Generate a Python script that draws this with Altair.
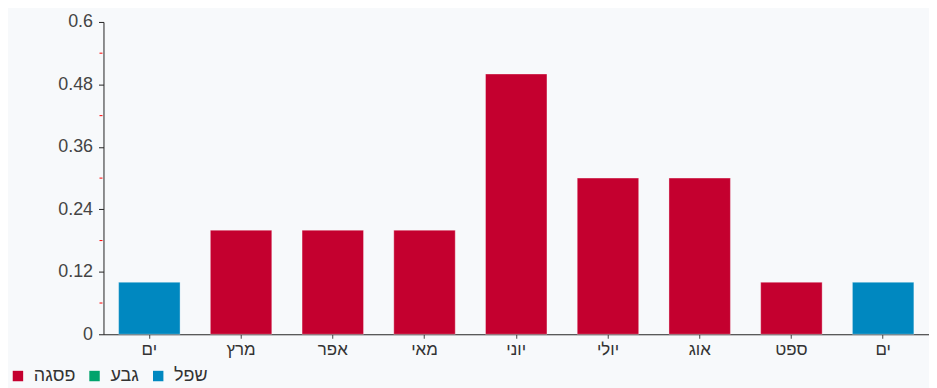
import altair as alt
import pandas as pd

months = ["ים", "מרץ", "אפר", "מאי", "יוני", "יולי", "אוג", "ספט", "ים"]
values = [0.1, 0.2, 0.2, 0.2, 0.5, 0.3, 0.3, 0.1, 0.1]
series = ["שפל", "פסגה", "פסגה", "פסגה", "פסגה", "פסגה", "פסגה", "פסגה", "שפל"]
legend_order = ["פסגה", "גבע", "שפל"]
legend_colors = ["#c4002f", "#00a36c", "#0088c0"]
major_ticks = [0, 0.12, 0.24, 0.36, 0.48, 0.6]
minor_ticks = [0.06, 0.18, 0.30, 0.42, 0.54]

df = pd.DataFrame({"idx": list(range(len(months))), "month": months,
                   "value": values, "series": series})
minor_df = pd.DataFrame({"value": minor_ticks})

label_map = "[" + ",".join('"%s"' % m for m in months) + "]"
font = "Liberation Sans"

yscale = alt.Scale(domain=[0, 0.6], nice=False, zero=True)
yaxis = alt.Axis(values=major_ticks, labelFont=font, labelFontSize=18,
                 labelColor="#444444", domainColor="#222222",
                 tickColor="#222222", tickSize=5, labelPadding=6,
                 grid=False, format=".2~f")

bars = alt.Chart(df).mark_bar(stroke="#ffffff", strokeOpacity=0.35, strokeWidth=1).encode(
    x=alt.X("idx:O", title=None,
            scale=alt.Scale(paddingInner=0.33, paddingOuter=0.165),
            axis=alt.Axis(labelExpr=label_map + "[datum.value]", labelAngle=0,
                          labelFont=font, labelFontSize=17, labelColor="#333333",
                          domainColor="#222222", tickColor="#444444", tickSize=4,
                          labelPadding=3, grid=False)),
    y=alt.Y("value:Q", title=None, scale=yscale, axis=yaxis),
    color=alt.Color("series:N", title=None,
                    scale=alt.Scale(domain=legend_order, range=legend_colors),
                    legend=alt.Legend(orient="none", direction="horizontal",
                                      legendX=-95, legendY=347,
                                      symbolType="square", symbolSize=110,
                                      symbolStrokeWidth=0, labelFont=font,
                                      labelFontSize=18, labelColor="#333333",
                                      labelOffset=7, columnPadding=10)),
)

minor = alt.Chart(minor_df).mark_rule(color="#ff0000", strokeWidth=1).encode(
    y=alt.Y("value:Q", title=None, scale=yscale, axis=yaxis),
    x=alt.value(-4),
    x2=alt.value(-1),
)

chart = alt.layer(bars, minor).properties(
    width=830, height=314,
    autosize=alt.AutoSizeParams(type="none"),
    padding={"left": 96, "top": 13, "right": 0, "bottom": 53},
    background="#f7f9fb",
).configure_view(stroke=None)

chart.save("out.html", embed_options={"renderer": "svg", "actions": False})
